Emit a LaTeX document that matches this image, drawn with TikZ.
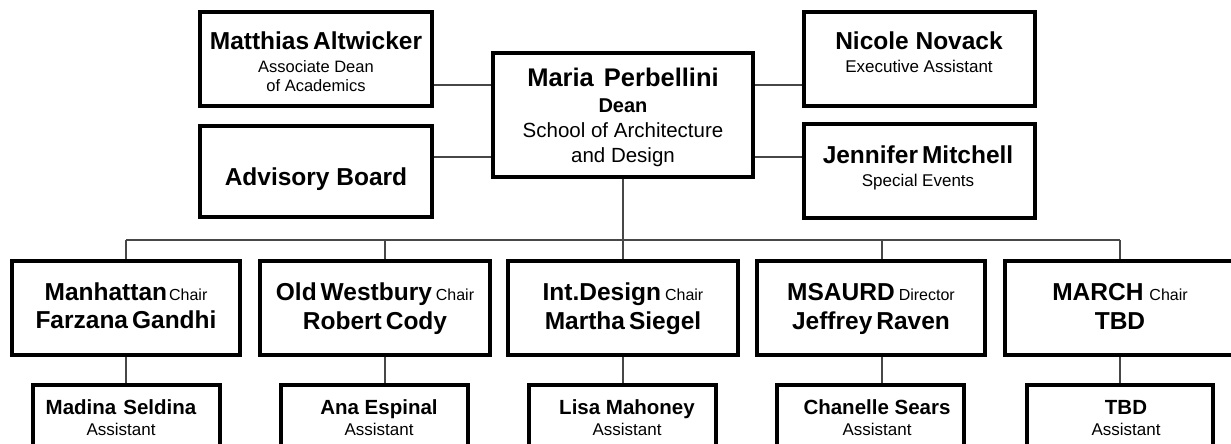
\documentclass[tikz,border=0pt]{standalone}
\usepackage{fontspec}
\setmainfont{Liberation Sans}
\newcommand\tsp{\hspace{4pt}}
\newcommand\chf{\fontsize{16}{20}\selectfont\mdseries}
\begin{document}
\begin{tikzpicture}[x=1pt,y=-1pt,
  box/.style={draw=black, line width=3.3pt, fill=white, inner sep=0pt, rectangle},
  conn/.style={draw=black!72, line width=1.3pt},
  ln/.style={anchor=base, inner sep=0pt},
  nmf/.style={font=\fontsize{24.5}{28}\selectfont\bfseries},
  smf/.style={font=\fontsize{16.5}{20}\selectfont},
  asf/.style={font=\fontsize{17}{20}\selectfont},
  bnf/.style={font=\fontsize{20.5}{24}\selectfont\bfseries}]
\useasboundingbox (0,0) rectangle (1231,444);
\fill[white] (0,0) rectangle (1231,444);
\clip (0,0) rectangle (1231,444);

% top boxes
\node[box, minimum width=232, minimum height=94] (matt) at (316,59) {};
\node[box, minimum width=232, minimum height=91] (adv) at (316,171.5) {};
\node[box, minimum width=260, minimum height=124] (maria) at (623,115) {};
\node[box, minimum width=231, minimum height=94] (nicole) at (919.5,59) {};
\node[box, minimum width=231, minimum height=94] (jenn) at (919.5,171) {};
% chair boxes
\node[box, minimum width=228, minimum height=94] (man) at (126,308) {};
\node[box, minimum width=230, minimum height=94] (oldw) at (375,308) {};
\node[box, minimum width=230, minimum height=94] (intd) at (623,308) {};
\node[box, minimum width=228, minimum height=94] (msaurd) at (871,308) {};
\node[box, minimum width=231, minimum height=94] (march) at (1120.5,308) {};
% assistant boxes
\node[box, minimum width=187, minimum height=90] (madina) at (126.5,430) {};
\node[box, minimum width=187, minimum height=90] (ana) at (374.5,430) {};
\node[box, minimum width=187, minimum height=90] (lisa) at (622.5,430) {};
\node[box, minimum width=187, minimum height=90] (chan) at (870.5,430) {};
\node[box, minimum width=186, minimum height=90] (tbd) at (1120,430) {};

% connector coordinates
\coordinate (ya) at (0,85);
\coordinate (yb) at (0,157);
\coordinate (b1) at (126,240);
\coordinate (b2) at (385,240);
\coordinate (b3) at (623,240);
\coordinate (b4) at (882,240);
\coordinate (b5) at (1120,240);

\draw[conn] (matt.east |- ya) -- (maria.west |- ya);
\draw[conn] (adv.east |- yb) -- (maria.west |- yb);
\draw[conn] (maria.east |- ya) -- (nicole.west |- ya);
\draw[conn] (maria.east |- yb) -- (jenn.west |- yb);
\draw[conn] (maria.south) -- (b3);
\draw[conn] (b1) -- (b5);
\draw[conn] (b1) -- (man.north -| b1);
\draw[conn] (b2) -- (oldw.north -| b2);
\draw[conn] (b3) -- (intd.north -| b3);
\draw[conn] (b4) -- (msaurd.north -| b4);
\draw[conn] (b5) -- (march.north -| b5);
\draw[conn] (man.south -| b1) -- (madina.north -| b1);
\draw[conn] (oldw.south -| b2) -- (ana.north -| b2);
\draw[conn] (intd.south -| b3) -- (lisa.north -| b3);
\draw[conn] (msaurd.south -| b4) -- (chan.north -| b4);
\draw[conn] (march.south -| b5) -- (tbd.north -| b5);

% texts: top
\node[ln,nmf] (mattA) at (316,50) {Matthias\tsp Altwicker};
\node[ln,smf] (mattB) at (316,73) {Associate Dean};
\node[ln,smf] (mattC) at (316,92) {of Academics};
\node[ln,font=\fontsize{24.5}{28}\selectfont\bfseries] (advA) at (316,185) {Advisory Board};
\node[ln,font=\fontsize{25.5}{28}\selectfont\bfseries] (mariaA) at (623,86) {Maria\hspace{10pt}Perbellini};
\node[ln,font=\fontsize{20}{24}\selectfont\bfseries] (mariaB) at (623,112) {Dean};
\node[ln,font=\fontsize{20.5}{24}\selectfont] (mariaC) at (623,137) {School of Architecture};
\node[ln,font=\fontsize{20.5}{24}\selectfont] (mariaD) at (623,162) {and Design};
\node[ln,nmf] (nicA) at (919,50) {Nicole Novack};
\node[ln,font=\fontsize{17}{20}\selectfont] (nicB) at (919,72) {Executive Assistant};
\node[ln,nmf] (jenA) at (918,163) {Jennifer\tsp Mitchell};
\node[ln,font=\fontsize{17}{20}\selectfont] (jenB) at (918,186) {Special Events};

% texts: chairs
\node[ln,nmf] (manA) at (126,300) {Manhattan\hspace{2pt}{\chf Chair}};
\node[ln,nmf] (manB) at (126,328) {Farzana\tsp Gandhi};
\node[ln,nmf] (oldwA) at (375,300) {Old\tsp Westbury\hspace{4pt}{\chf Chair}};
\node[ln,nmf] (oldwB) at (375,329) {Robert\tsp Cody};
\node[ln,nmf] (intdA) at (623,300) {Int.Design\hspace{4pt}{\chf Chair}};
\node[ln,nmf] (intdB) at (623,329) {Martha\tsp Siegel};
\node[ln,nmf] (msaurdA) at (871,300) {MSAURD\hspace{4pt}{\chf Director}};
\node[ln,nmf] (msaurdB) at (871,329) {Jeffrey\tsp Raven};
\node[ln,nmf] (marchA) at (1120,300) {MARCH\hspace{6pt}{\chf Chair}};
\node[ln,nmf] (marchB) at (1120,329) {TBD};

% texts: assistants
\node[ln,bnf] (madinaA) at (121,414) {Madina\hspace{7pt}Seldina};
\node[ln,asf] (madinaB) at (121,435) {Assistant};
\node[ln,bnf] (anaA) at (379,414) {Ana Espinal};
\node[ln,asf] (anaB) at (379,435) {Assistant};
\node[ln,bnf] (lisaA) at (627,414) {Lisa Mahoney};
\node[ln,asf] (lisaB) at (627,435) {Assistant};
\node[ln,bnf] (chanA) at (877,414) {Chanelle Sears};
\node[ln,asf] (chanB) at (877,435) {Assistant};
\node[ln,bnf] (tbdA) at (1126,414) {TBD};
\node[ln,asf] (tbdB) at (1126,435) {Assistant};
\end{tikzpicture}
\end{document}
